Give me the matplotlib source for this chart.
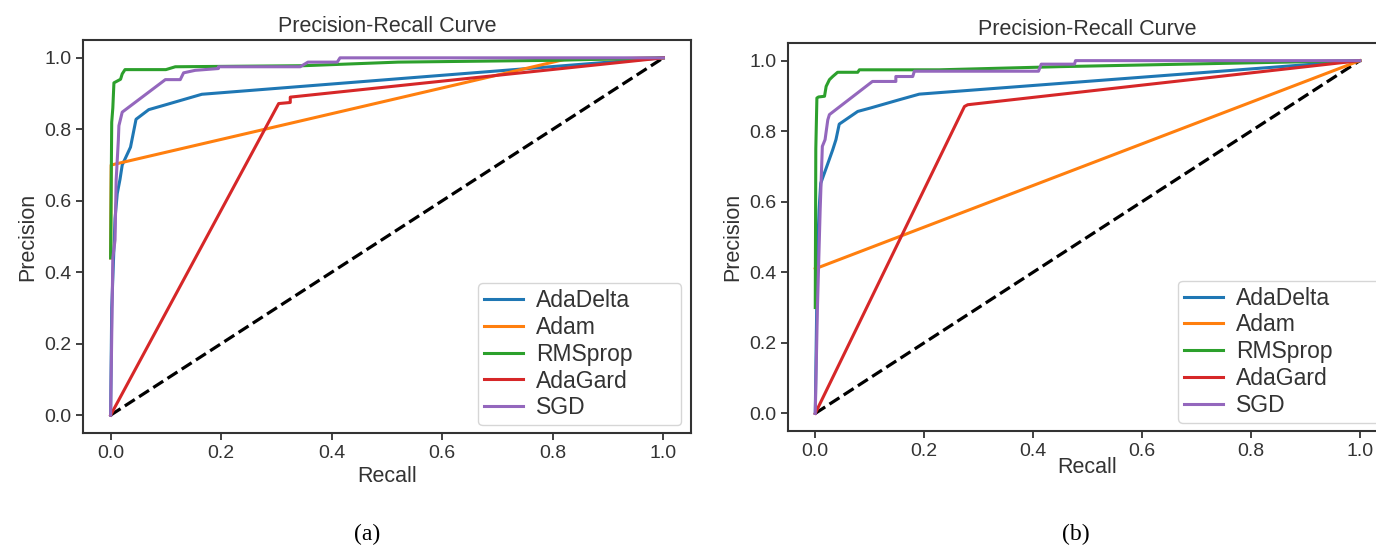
import numpy as np
import matplotlib
matplotlib.use("Agg")
import matplotlib.pyplot as plt

plt.rcParams['font.family'] = ['Liberation Sans', 'DejaVu Sans']

labels = ['AdaDelta', 'Adam', 'RMSprop', 'AdaGard', 'SGD']
colors = ['#1f77b4', '#ff7f0e', '#2ca02c', '#d62728', '#9467bd']

# panel (a)
ada_delta_r_a = [0.0, 0.002, 0.008, 0.012, 0.017, 0.021, 0.030, 0.036, 0.046, 0.069, 0.096, 0.165, 1.0]
ada_delta_p_a = [0.0, 0.30, 0.55, 0.62, 0.66, 0.70, 0.73, 0.75, 0.828, 0.855, 0.867, 0.898, 1.0]
adam_r_a = [0.0, 0.001, 0.82, 1.0]
adam_p_a = [0.44, 0.70, 0.995, 1.0]
rms_r_a = [0.0, 0.002, 0.004, 0.006, 0.012, 0.018, 0.021, 0.026, 0.10, 0.117, 0.35, 0.52, 0.80, 1.0]
rms_p_a = [0.44, 0.82, 0.86, 0.93, 0.935, 0.94, 0.955, 0.967, 0.967, 0.975, 0.978, 0.988, 0.993, 1.0]
ada_gard_r_a = [0.0, 0.304, 0.325, 0.325, 1.0]
ada_gard_p_a = [0.0, 0.872, 0.875, 0.890, 1.0]
sgd_r_a = [0.0, 0.004, 0.008, 0.010, 0.014, 0.015, 0.021, 0.099, 0.126, 0.132, 0.153,
           0.195, 0.195, 0.343, 0.357, 0.41, 0.415, 1.0]
sgd_p_a = [0.0, 0.44, 0.49, 0.657, 0.77, 0.81, 0.848, 0.939, 0.939, 0.958, 0.965,
           0.97, 0.975, 0.975, 0.988, 0.988, 1.0, 1.0]

# panel (b)
ada_delta_r_b = [0.0, 0.004, 0.007, 0.010, 0.020, 0.032, 0.038, 0.044, 0.078, 0.102, 0.154, 0.191, 1.0]
ada_delta_p_b = [0.0, 0.45, 0.577, 0.652, 0.695, 0.747, 0.776, 0.820, 0.856, 0.866, 0.889, 0.905, 1.0]
adam_r_b = [0.0, 1.0]
adam_p_b = [0.41, 1.0]
rms_r_b = [0.0, 0.001, 0.003, 0.006, 0.017, 0.020, 0.026, 0.032, 0.041, 0.078, 0.081, 0.228, 0.45, 1.0]
rms_p_b = [0.30, 0.75, 0.894, 0.897, 0.899, 0.927, 0.946, 0.955, 0.967, 0.967, 0.974, 0.974, 0.983, 1.0]
ada_gard_r_b = [0.0, 0.274, 0.28, 1.0]
ada_gard_p_b = [0.0, 0.870, 0.875, 1.0]
sgd_r_b = [0.0, 0.004, 0.009, 0.013, 0.018, 0.023, 0.026, 0.105, 0.148, 0.148, 0.179, 0.182,
           0.41, 0.415, 0.476, 0.478, 1.0]
sgd_p_b = [0.0, 0.30, 0.577, 0.757, 0.776, 0.832, 0.847, 0.941, 0.941, 0.955, 0.955, 0.97,
           0.97, 0.99, 0.99, 1.0, 1.0]

curves_a = [(ada_delta_r_a, ada_delta_p_a), (adam_r_a, adam_p_a), (rms_r_a, rms_p_a),
            (ada_gard_r_a, ada_gard_p_a), (sgd_r_a, sgd_p_a)]
curves_b = [(ada_delta_r_b, ada_delta_p_b), (adam_r_b, adam_p_b), (rms_r_b, rms_p_b),
            (ada_gard_r_b, ada_gard_p_b), (sgd_r_b, sgd_p_b)]

txt = '#333333'
fig = plt.figure(figsize=(13.76, 5.52), dpi=100)
ax_a = fig.add_axes([0.0603, 0.2156, 0.4419, 0.712])
ax_b = fig.add_axes([0.5727, 0.2192, 0.4353, 0.7029])

panels = [(ax_a, curves_a, 3, (0.65, 0.02, 0.334, 0.36)),
          (ax_b, curves_b, -2, (0.651, 0.021, 0.339, 0.36))]
for ax, curves, lpad, box in panels:
    ax.plot([0, 1], [0, 1], color='black', linestyle='--', lw=2.3)
    for (r, p), lab, c in zip(curves, labels, colors):
        ax.plot(r, p, color=c, lw=2.2, label=lab)
    ax.set_xlim(-0.05, 1.05)
    ax.set_ylim(-0.05, 1.05)
    ax.set_xticks(np.arange(0, 1.01, 0.2))
    ax.set_yticks(np.arange(0, 1.01, 0.2))
    ax.tick_params(labelsize=14, colors=txt, length=5, width=1.3)
    for s in ax.spines.values():
        s.set_color('#333333')
        s.set_linewidth(1.5)
    ax.set_title('Precision-Recall Curve', fontsize=15.5, color=txt, pad=6)
    ax.set_xlabel('Recall', fontsize=15.5, color=txt, labelpad=lpad)
    ax.set_ylabel('Precision', fontsize=15.5, color=txt)
    leg = ax.legend(loc='lower left', bbox_to_anchor=box, mode='expand', borderaxespad=0,
                    fontsize=16.5, labelspacing=0.17, handlelength=1.7,
                    handletextpad=0.57, borderpad=0.25)
    for t in leg.get_texts():
        t.set_color(txt)
    leg.get_frame().set_edgecolor('#cccccc')

fig.text(0.2667, 0.022, '(a)', fontsize=17, family='Liberation Serif', ha='center')
fig.text(0.7816, 0.022, '(b)', fontsize=17, family='Liberation Serif', ha='center')

fig.savefig('out.png', dpi=100)
